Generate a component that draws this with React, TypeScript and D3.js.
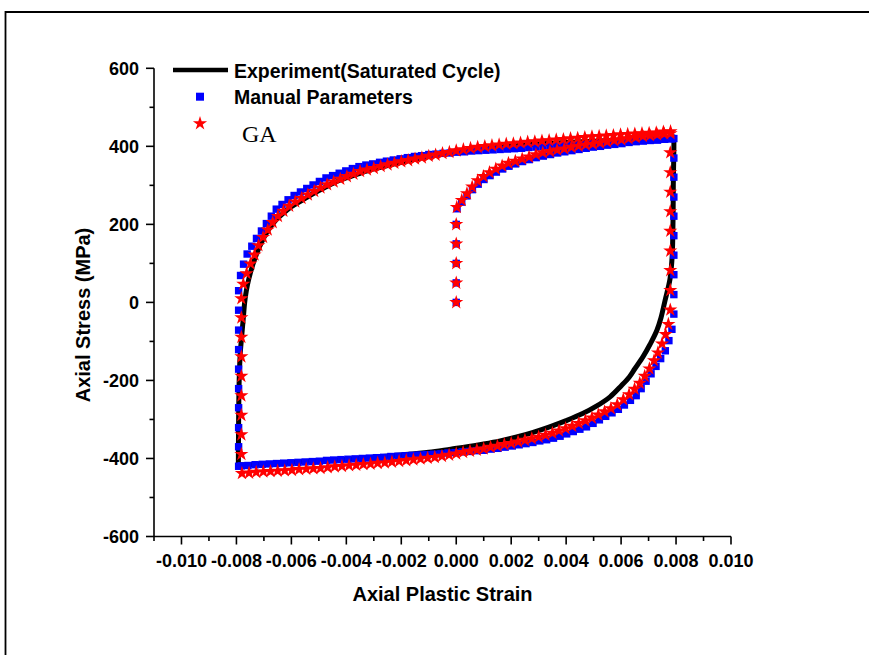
import React from "react";
import * as d3 from "d3";

// ---------- axis ticks ----------
const X_TICKS = [-0.01, -0.008, -0.006, -0.004, -0.002, 0, 0.002, 0.004, 0.006, 0.008, 0.01];
const X_MINOR = [-0.011, -0.009, -0.007, -0.005, -0.003, -0.001, 0.001, 0.003, 0.005, 0.007, 0.009];
const Y_TICKS = [-600, -400, -200, 0, 200, 400, 600];
const Y_MINOR = [-500, -300, -100, 100, 300, 500];
const LEGEND = ["Experiment(Saturated Cycle)", "Manual Parameters", "GA"];
const X_TITLE = "Axial Plastic Strain";
const Y_TITLE = "Axial Stress (MPa)";

// ---------- Experiment (saturated cycle), [plastic strain, stress MPa] ----------
const EXP_UP: [number, number][] = [
  [-0.00793, -417], [-0.00792, -300], [-0.0079, -200], [-0.00786, -130], [-0.0078, -80], [-0.00775, -40],
  [-0.0077, 0], [-0.00764, 30], [-0.00755, 60], [-0.0074, 98], [-0.0072, 136], [-0.007, 166],
  [-0.0068, 190], [-0.0066, 208], [-0.0063, 228], [-0.006, 245], [-0.0056, 262], [-0.0052, 279],
  [-0.0048, 294], [-0.0044, 308], [-0.004, 319], [-0.0035, 331], [-0.003, 342], [-0.0025, 351],
  [-0.002, 359], [-0.0015, 367], [-0.001, 374], [-0.0005, 380], [0, 386], [0.001, 395], [0.002, 401],
  [0.003, 406], [0.004, 410], [0.005, 413], [0.006, 416], [0.007, 419], [0.0079, 423],
];
const EXP_LOW: [number, number][] = [
  [0.00791, 424], [0.0079, 300], [0.00789, 211], [0.00786, 120], [0.00778, 60], [0.0076, 5],
  [0.00745, -40], [0.0073, -72], [0.00705, -108], [0.0068, -139], [0.0065, -170], [0.0063, -191],
  [0.006, -214], [0.0056, -242], [0.0051, -266], [0.0046, -285], [0.004, -303], [0.0034, -319],
  [0.0028, -333], [0.0022, -345], [0.0016, -355], [0.001, -363], [0.0004, -370], [-0.0002, -376],
  [-0.001, -384], [-0.002, -391], [-0.003, -397], [-0.004, -402], [-0.005, -406], [-0.006, -410],
  [-0.007, -414], [-0.0079, -417],
];

// ---------- Manual parameters ----------
const MP_INIT: [number, number][] = [
  [0, 0], [0, 50], [0, 100], [0, 150], [0, 200], [0.00003, 240], [0.0002, 257], [0.00039, 273],
  [0.00059, 289], [0.0008, 303], [0.00101, 315], [0.00123, 325], [0.00146, 334], [0.00169, 342],
  [0.00192, 349], [0.00216, 355], [0.00241, 361], [0.00266, 366], [0.00291, 371], [0.00317, 375],
  [0.00343, 379], [0.00369, 383], [0.00395, 386], [0.00421, 389], [0.00447, 392], [0.00473, 395],
  [0.00499, 398], [0.00525, 400], [0.00551, 403], [0.00577, 405], [0.00603, 407], [0.00629, 410],
  [0.00655, 412], [0.00681, 414], [0.00707, 416], [0.00733, 417], [0.00759, 419], [0.00785, 420],
];
const MP_UP: [number, number][] = [
  [-0.00792, -370], [-0.00792, -321], [-0.00792, -270], [-0.00792, -221], [-0.00792, -171],
  [-0.00792, -121], [-0.00792, -71], [-0.00792, -20], [-0.00792, 30],
  [-0.00785, 69], [-0.00774, 98], [-0.00761, 124], [-0.00744, 144], [-0.00727, 164], [-0.00709, 183],
  [-0.00691, 202], [-0.00673, 221], [-0.00655, 239], [-0.00634, 251], [-0.00612, 263], [-0.0059, 274],
  [-0.00567, 283], [-0.00544, 292], [-0.00521, 301], [-0.00498, 310], [-0.00474, 319], [-0.0045, 325],
  [-0.00426, 331], [-0.00402, 337], [-0.00378, 343], [-0.00354, 348], [-0.00329, 352], [-0.00304, 355],
  [-0.00279, 359], [-0.00254, 362], [-0.00229, 365], [-0.00204, 368], [-0.00178, 371], [-0.00152, 374],
  [-0.00126, 376], [-0.001, 379], [-0.00074, 380], [-0.00048, 382], [-0.00022, 383], [0.00004, 385],
  [0.0003, 386], [0.00056, 388], [0.00082, 389], [0.00108, 390], [0.00134, 391], [0.0016, 392],
  [0.00186, 393], [0.00212, 394], [0.00238, 395], [0.00264, 397], [0.0029, 398], [0.00316, 399],
  [0.00342, 400], [0.00368, 401], [0.00394, 402], [0.0042, 403], [0.00446, 404], [0.00472, 405],
  [0.00498, 407], [0.00524, 408], [0.0055, 409], [0.00576, 410], [0.00602, 411], [0.00628, 412],
  [0.00654, 413], [0.0068, 414], [0.00706, 415], [0.00732, 416], [0.00758, 418], [0.00782, 419],
  [0.00792, 420],
];
const MP_LOW: [number, number][] = [
  [0.00792, 370], [0.00792, 321], [0.00792, 270], [0.00792, 221], [0.00792, 171], [0.00792, 121],
  [0.00792, 71], [0.00792, 20], [0.00792, -30],
  [0.00785, -69], [0.00774, -98], [0.00761, -124], [0.00744, -144], [0.00727, -164], [0.00709, -183],
  [0.00691, -202], [0.00673, -221], [0.00655, -239], [0.00634, -251], [0.00612, -263], [0.0059, -274],
  [0.00567, -283], [0.00544, -292], [0.00521, -301], [0.00498, -310], [0.00474, -319], [0.0045, -325],
  [0.00426, -331], [0.00402, -337], [0.00378, -343], [0.00354, -348], [0.00329, -352], [0.00304, -355],
  [0.00279, -359], [0.00254, -362], [0.00229, -365], [0.00204, -368], [0.00178, -371], [0.00152, -374],
  [0.00126, -376], [0.001, -379], [0.00074, -380], [0.00048, -382], [0.00022, -383], [-0.00004, -385],
  [-0.0003, -386], [-0.00056, -388], [-0.00082, -389], [-0.00108, -390], [-0.00134, -391], [-0.0016, -392],
  [-0.00186, -393], [-0.00212, -394], [-0.00238, -395], [-0.00264, -397], [-0.0029, -398], [-0.00316, -399],
  [-0.00342, -400], [-0.00368, -401], [-0.00394, -402], [-0.0042, -403], [-0.00446, -404], [-0.00472, -405],
  [-0.00498, -407], [-0.00524, -408], [-0.0055, -409], [-0.00576, -410], [-0.00602, -411], [-0.00628, -412],
  [-0.00654, -413], [-0.0068, -414], [-0.00706, -415], [-0.00732, -416], [-0.00758, -418], [-0.00782, -419],
  [-0.00792, -420],
];

// ---------- GA ----------
const GA_INIT: [number, number][] = [
  [0, 0], [0, 50], [0, 100], [0, 150], [0, 200], [0.00002, 244], [0.0002, 262], [0.00039, 279],
  [0.00058, 296], [0.00078, 312], [0.00099, 323], [0.00121, 333], [0.00144, 342], [0.00167, 350],
  [0.0019, 357], [0.00215, 362], [0.0024, 368], [0.00265, 373], [0.0029, 379], [0.00315, 384],
  [0.00341, 387], [0.00367, 391], [0.00393, 394], [0.00419, 398], [0.00445, 401], [0.00471, 404],
  [0.00497, 406], [0.00523, 409], [0.00549, 412], [0.00575, 415], [0.00601, 417], [0.00627, 420],
  [0.00653, 423], [0.00679, 426], [0.00705, 428], [0.00731, 430], [0.00757, 432], [0.0078, 433],
];
const GA_UP: [number, number][] = [
  [-0.00782, -389], [-0.00782, -339], [-0.00782, -289], [-0.00782, -239], [-0.00782, -189],
  [-0.00782, -139], [-0.00782, -89], [-0.00782, -39], [-0.00782, 10],
  [-0.00775, 47], [-0.00763, 74], [-0.00749, 99], [-0.00734, 122], [-0.0072, 146], [-0.00703, 167],
  [-0.00686, 186], [-0.00668, 205], [-0.00649, 221], [-0.00629, 234], [-0.00608, 247], [-0.00586, 258],
  [-0.00563, 267], [-0.0054, 276], [-0.00517, 285], [-0.00494, 294], [-0.0047, 302], [-0.00446, 309],
  [-0.00422, 316], [-0.00398, 323], [-0.00374, 329], [-0.0035, 336], [-0.00325, 340], [-0.003, 344],
  [-0.00275, 349], [-0.0025, 353], [-0.00225, 357], [-0.002, 361], [-0.00175, 364], [-0.0015, 368],
  [-0.00125, 371], [-0.001, 375], [-0.00075, 378], [-0.0005, 382], [-0.00025, 385], [0, 389],
  [0.00026, 392], [0.00052, 395], [0.00078, 398], [0.00104, 400], [0.0013, 402], [0.00156, 404],
  [0.00182, 406], [0.00208, 407], [0.00234, 409], [0.0026, 411], [0.00286, 412], [0.00312, 414],
  [0.00338, 415], [0.00364, 417], [0.0039, 418], [0.00416, 420], [0.00442, 421], [0.00468, 423],
  [0.00494, 425], [0.0052, 426], [0.00546, 427], [0.00572, 428], [0.00598, 430], [0.00624, 431],
  [0.0065, 432], [0.00676, 433], [0.00702, 434], [0.00728, 435], [0.00754, 437], [0.0078, 438],
];
const GA_LOW: [number, number][] = [
  [0.00779, 384], [0.00779, 333], [0.00779, 283], [0.00779, 233], [0.00779, 183], [0.00779, 132],
  [0.00779, 82], [0.00779, 31], [0.00779, -19],
  [0.00772, -56], [0.00762, -82], [0.00749, -106], [0.00734, -129], [0.0072, -149], [0.00703, -170],
  [0.00686, -189], [0.00668, -207], [0.00649, -222], [0.00629, -236], [0.00608, -249], [0.00586, -262],
  [0.00563, -272], [0.0054, -280], [0.00517, -288], [0.00494, -296], [0.0047, -303], [0.00446, -310],
  [0.00422, -317], [0.00398, -323], [0.00374, -329], [0.0035, -335], [0.00325, -340], [0.003, -345],
  [0.00275, -349], [0.0025, -353], [0.00225, -357], [0.002, -361], [0.00175, -364], [0.0015, -368],
  [0.00125, -371], [0.001, -375], [0.00075, -378], [0.0005, -381], [0.00025, -384], [0, -388],
  [-0.00026, -391], [-0.00052, -394], [-0.00078, -397], [-0.00104, -399], [-0.0013, -401], [-0.00156, -403],
  [-0.00182, -405], [-0.00208, -407], [-0.00234, -409], [-0.0026, -411], [-0.00286, -412], [-0.00312, -414],
  [-0.00338, -415], [-0.00364, -417], [-0.0039, -418], [-0.00416, -420], [-0.00442, -421], [-0.00468, -423],
  [-0.00494, -425], [-0.0052, -426], [-0.00546, -427], [-0.00572, -428], [-0.00598, -430], [-0.00624, -431],
  [-0.0065, -432], [-0.00676, -433], [-0.00702, -434], [-0.00728, -435], [-0.00754, -437], [-0.0078, -438],
];

const W = 869;
const H = 655;
const SANS = "'Liberation Sans', Arial, sans-serif";
const SERIF = "'Liberation Serif', 'Times New Roman', serif";

export default function App() {
  const x = d3.scaleLinear().domain([-0.011, 0.01]).range([154, 731]);
  const y = d3.scaleLinear().domain([-600, 600]).range([536.5, 68.3]);
  const line = d3
    .line<[number, number]>()
    .x((d) => x(d[0]))
    .y((d) => y(d[1]))
    .curve(d3.curveCatmullRom.alpha(0.5));
  const expPath = line([...EXP_UP, ...EXP_LOW]) || "";
  const star = d3.symbol().type(d3.symbolStar).size(62)() || "";
  const SQ = 7.4;
  const blue = [...MP_INIT, ...MP_UP, ...MP_LOW];
  const red = [...GA_INIT, ...GA_UP, ...GA_LOW];
  const fmtX = (v: number) => v.toFixed(3);
  const x0 = x.range()[0];
  const x1 = x.range()[1];
  const yb = y.range()[0];
  const yt = y.range()[1];

  return (
    <svg
      width={W}
      height={H}
      style={{ position: "absolute", left: 0, top: 0, background: "#fff" }}
    >
      <rect x={0} y={0} width={W} height={H} fill="#fff" />
      {/* outer frame */}
      <path d="M5.5,700 V12 H900" fill="none" stroke="#000" strokeWidth={1.8} />

      {/* axes */}
      <line x1={x0} x2={x0} y1={yt} y2={yb} stroke="#000" strokeWidth={1.6} />
      <line x1={x0} x2={x1} y1={yb} y2={yb} stroke="#000" strokeWidth={1.6} />
      {Y_TICKS.map((t) => (
        <g key={"yt" + t}>
          <line x1={x0 - 8} x2={x0} y1={y(t)} y2={y(t)} stroke="#000" strokeWidth={1.6} />
          <text
            x={139}
            y={y(t) + 6.5}
            textAnchor="end"
            fontFamily={SANS}
            fontWeight="bold"
            fontSize={18}
          >
            {String(t)}
          </text>
        </g>
      ))}
      {Y_MINOR.map((t) => (
        <line key={"ym" + t} x1={x0 - 4.5} x2={x0} y1={y(t)} y2={y(t)} stroke="#000" strokeWidth={1.6} />
      ))}
      {X_TICKS.map((t) => (
        <g key={"xt" + t}>
          <line x1={x(t)} x2={x(t)} y1={yb} y2={yb + 8} stroke="#000" strokeWidth={1.6} />
          <text
            x={x(t)}
            y={566.5}
            textAnchor="middle"
            fontFamily={SANS}
            fontWeight="bold"
            fontSize={18}
          >
            {fmtX(t)}
          </text>
        </g>
      ))}
      {X_MINOR.map((t) => (
        <line key={"xm" + t} x1={x(t)} x2={x(t)} y1={yb} y2={yb + 4.5} stroke="#000" strokeWidth={1.6} />
      ))}

      {/* axis titles */}
      <text x={442.5} y={601} textAnchor="middle" fontFamily={SANS} fontWeight="bold" fontSize={20}>
        {X_TITLE}
      </text>
      <text
        transform="translate(90,315) rotate(-90)"
        textAnchor="middle"
        fontFamily={SANS}
        fontWeight="bold"
        fontSize={20}
      >
        {Y_TITLE}
      </text>

      {/* experiment */}
      <path d={expPath} fill="none" stroke="#000" strokeWidth={5} strokeLinejoin="round" />

      {/* manual parameters */}
      {blue.map((d, i) => (
        <rect key={"b" + i} x={x(d[0]) - SQ / 2} y={y(d[1]) - SQ / 2} width={SQ} height={SQ} fill="#0000ff" />
      ))}
      {/* GA */}
      {red.map((d, i) => (
        <path key={"r" + i} d={star} transform={`translate(${x(d[0])},${y(d[1])})`} fill="#ff0000" />
      ))}

      {/* legend */}
      <line x1={173} x2={228} y1={70} y2={70} stroke="#000" strokeWidth={4.5} />
      <text x={234} y={77.5} fontFamily={SANS} fontWeight="bold" fontSize={19.5}>
        {LEGEND[0]}
      </text>
      <rect x={200 - 4} y={96.7 - 4} width={8} height={8} fill="#0000ff" />
      <text x={234} y={104} fontFamily={SANS} fontWeight="bold" fontSize={19.5}>
        {LEGEND[1]}
      </text>
      <path d={star} transform="translate(200,123.5)" fill="#ff0000" />
      <text x={242} y={142} fontFamily={SERIF} fontSize={24}>
        {LEGEND[2]}
      </text>
    </svg>
  );
}
